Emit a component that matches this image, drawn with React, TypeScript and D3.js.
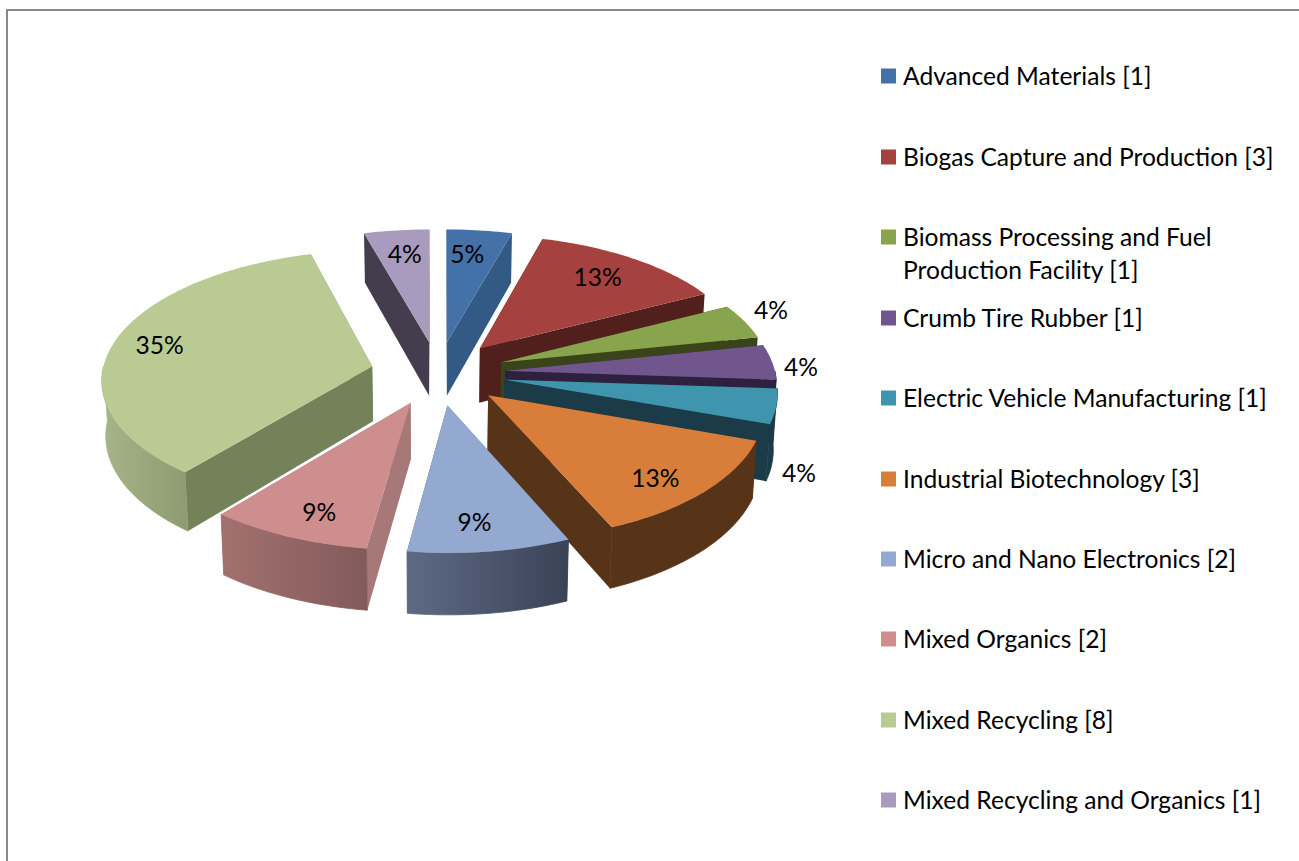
import React from "react";
import * as d3 from "d3";

// ---- data ----
const categories = [
  "Advanced Materials",
  "Biogas Capture and Production",
  "Biomass Processing and Fuel",
  "Crumb Tire Rubber",
  "Electric Vehicle Manufacturing",
  "Industrial Biotechnology",
  "Micro and Nano Electronics",
  "Mixed Organics",
  "Mixed Recycling",
  "Mixed Recycling and Organics",
];
const wrappedTail = ["", "", "Production Facility", "", "", "", "", "", "", ""];
const counts = [1, 3, 1, 1, 1, 3, 2, 2, 8, 1];
const percentLabels = ["5%", "13%", "4%", "4%", "4%", "13%", "9%", "9%", "35%", "4%"];

// ---- styles ----
const topColors = ["#4471A7", "#A5423F", "#88A44C", "#71568D", "#4095AE", "#D87E3A", "#93A9CF", "#CE8E8D", "#B9CB93", "#A99BBD"];
const sideColors = ["#335A85", "#51201D", "#3A441B", "#2E2140", "#1A3B47", "#573318", "#4A556C", "#A67978", "#74825A", "#433D4D"];
const rimLeft = ["#335A85", "#51201D", "#3A441B", "#2E2140", "#1A3B47", "#573318", "#5E6A85", "#A2716F", "#A6B488", "#433D4D"];
const rimRight = ["#335A85", "#51201D", "#3A441B", "#2E2140", "#1A3B47", "#573318", "#3A4256", "#825A5A", "#8D9C70", "#433D4D"];
const labelNudge = [[-6, 2], [-7, 1], [74, -20], [82, 3], [78, 72], [-4, 6], [-6, 2], [5, 4], [-6, -2], [2, 2]];

// ---- 3D pie projection ----
const cx = 438, cy = 373, focal = 270, tilt = 128, persp = 0.09, height = 55, explode = 0.25, taper = 0.012;
const font = "Lato, Carlito, Calibri, sans-serif";
const fontSize = 24.6;
const legendY = [76, 157, 237, 318, 398, 479, 559, 639, 720, 800];

function project(X: number, Y: number, Z: number): [number, number] {
  const d = 1 + persp * Y;
  return [cx + ((focal * X) / d) * (1 - taper * Z), cy - (tilt * Y) / d + (height * Z) / d];
}

const line = d3.line<[number, number]>();
const arcs = d3.pie<number>().sort(null)(counts);

function slicePoint(mid: number, r: number, a: number, z: number) {
  return project(explode * Math.sin(mid) + r * Math.sin(a), explode * Math.cos(mid) + r * Math.cos(a), z);
}

function rim(mid: number, a0: number, a1: number, z: number) {
  const n = Math.max(2, Math.ceil((a1 - a0) / 0.02));
  return d3.range(n + 1).map((i) => slicePoint(mid, 1, a0 + ((a1 - a0) * i) / n, z));
}

export default function App() {
  const order = d3.range(arcs.length).sort((p, q) => {
    const mp = (arcs[p].startAngle + arcs[p].endAngle) / 2;
    const mq = (arcs[q].startAngle + arcs[q].endAngle) / 2;
    return Math.cos(mq) - Math.cos(mp);
  });

  return (
    <svg
      width={1299}
      height={861}
      viewBox="0 0 1299 861"
      style={{ position: "absolute", left: 0, top: 0, display: "block", background: "#fff" }}
    >
      <defs>
        {arcs.map((_, i) => (
          <linearGradient key={i} id={`rim${i}`}>
            <stop offset="0" stopColor={rimLeft[i]} />
            <stop offset="1" stopColor={rimRight[i]} />
          </linearGradient>
        ))}
      </defs>

      <path d="M7,861V10H1299" fill="none" stroke="#888888" strokeWidth={2} />

      {order.map((i) => {
        const { startAngle: a0, endAngle: a1 } = arcs[i];
        const mid = (a0 + a1) / 2;
        const apexT = slicePoint(mid, 0, 0, 0);
        const apexB = slicePoint(mid, 0, 0, 1);
        const wall = (a: number) =>
          line([apexT, slicePoint(mid, 1, a, 0), slicePoint(mid, 1, a, 1), apexB])! + "Z";
        const v0 = Math.max(a0, Math.PI / 2);
        const v1 = Math.min(a1, (3 * Math.PI) / 2);
        const outer =
          v1 > v0 ? line([...rim(mid, v0, v1, 0), ...rim(mid, v0, v1, 1).reverse()])! + "Z" : null;
        const top = line([apexT, ...rim(mid, a0, a1, 0)])! + "Z";
        return (
          <g key={i}>
            <path d={wall(a0)} fill={sideColors[i]} />
            <path d={wall(a1)} fill={sideColors[i]} />
            {outer && <path d={outer} fill={`url(#rim${i})`} stroke={`url(#rim${i})`} strokeWidth={0.8} />}
            <path d={top} fill={topColors[i]} />
          </g>
        );
      })}

      {arcs.map((s, i) => {
        const mid = (s.startAngle + s.endAngle) / 2;
        const [x, y] = slicePoint(mid, 0.8, mid, 0);
        return (
          <text
            key={i}
            x={x + labelNudge[i][0]}
            y={y + labelNudge[i][1]}
            textAnchor="middle"
            dominantBaseline="central"
            fontFamily={font}
            fontSize={fontSize}
            fill="#000"
          >
            {percentLabels[i]}
          </text>
        );
      })}

      {categories.map((c, i) => (
        <g key={c}>
          <rect x={881} y={legendY[i] - 7.5} width={15} height={15} fill={topColors[i]} />
          {wrappedTail[i] ? (
            <text x={903} y={legendY[i] + 8.5} fontFamily={font} fontSize={fontSize} fill="#000">
              <tspan x={903}>{c}</tspan>
              <tspan x={903} dy={33}>{`${wrappedTail[i]} [${counts[i]}]`}</tspan>
            </text>
          ) : (
            <text x={903} y={legendY[i] + 8.5} fontFamily={font} fontSize={fontSize} fill="#000">
              {`${c} [${counts[i]}]`}
            </text>
          )}
        </g>
      ))}
    </svg>
  );
}
